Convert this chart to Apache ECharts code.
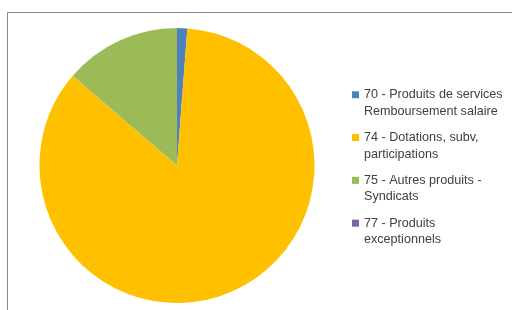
<!DOCTYPE html>
<html>
<head>
<meta charset="utf-8">
<script src="https://cdn.jsdelivr.net/npm/echarts@6/dist/echarts.min.js"></script>
<style>html,body{margin:0;padding:0;background:#fff;}#c{width:512px;height:310px;}</style>
</head>
<body>
<div id="c"></div>
<script>
var categories = [
  "70 - Produits de services\nRemboursement salaire",
  "74 - Dotations, subv,\nparticipations",
  "75 - Autres produits -\nSyndicats",
  "77 - Produits\nexceptionnels"
];
var values = [1.2, 85.1, 13.7, 0];
var colors = ["#4F81BD", "#FFC000", "#9BBB59", "#8064A2"];

var chart = echarts.init(document.getElementById('c'), null, {renderer: 'canvas'});
chart.setOption({
  animation: false,
  color: colors,
  graphic: [{
    type: 'rect', silent: true,
    shape: {x: 7.5, y: 12.5, width: 700, height: 500},
    style: {fill: 'none', stroke: '#8a8a8a', lineWidth: 1}
  }],
  legend: {
    orient: 'vertical',
    left: 352, top: 70,
    padding: 0,
    itemWidth: 7, itemHeight: 7, itemGap: -6.7,
    icon: 'rect',
    selectedMode: false,
    formatter: function (name) { return '\n' + name; },
    textStyle: {fontFamily: 'Liberation Sans', fontSize: 12.6, color: '#404040', lineHeight: 16.5},
    data: categories
  },
  series: [{
    type: 'pie',
    center: [177, 165.5],
    radius: 137.5,
    startAngle: 90,
    clockwise: true,
    label: {show: false},
    labelLine: {show: false},
    silent: true,
    itemStyle: {borderWidth: 0},
    data: categories.map(function (c, i) { return {name: c, value: values[i]}; })
  }]
});
</script>
</body>
</html>
